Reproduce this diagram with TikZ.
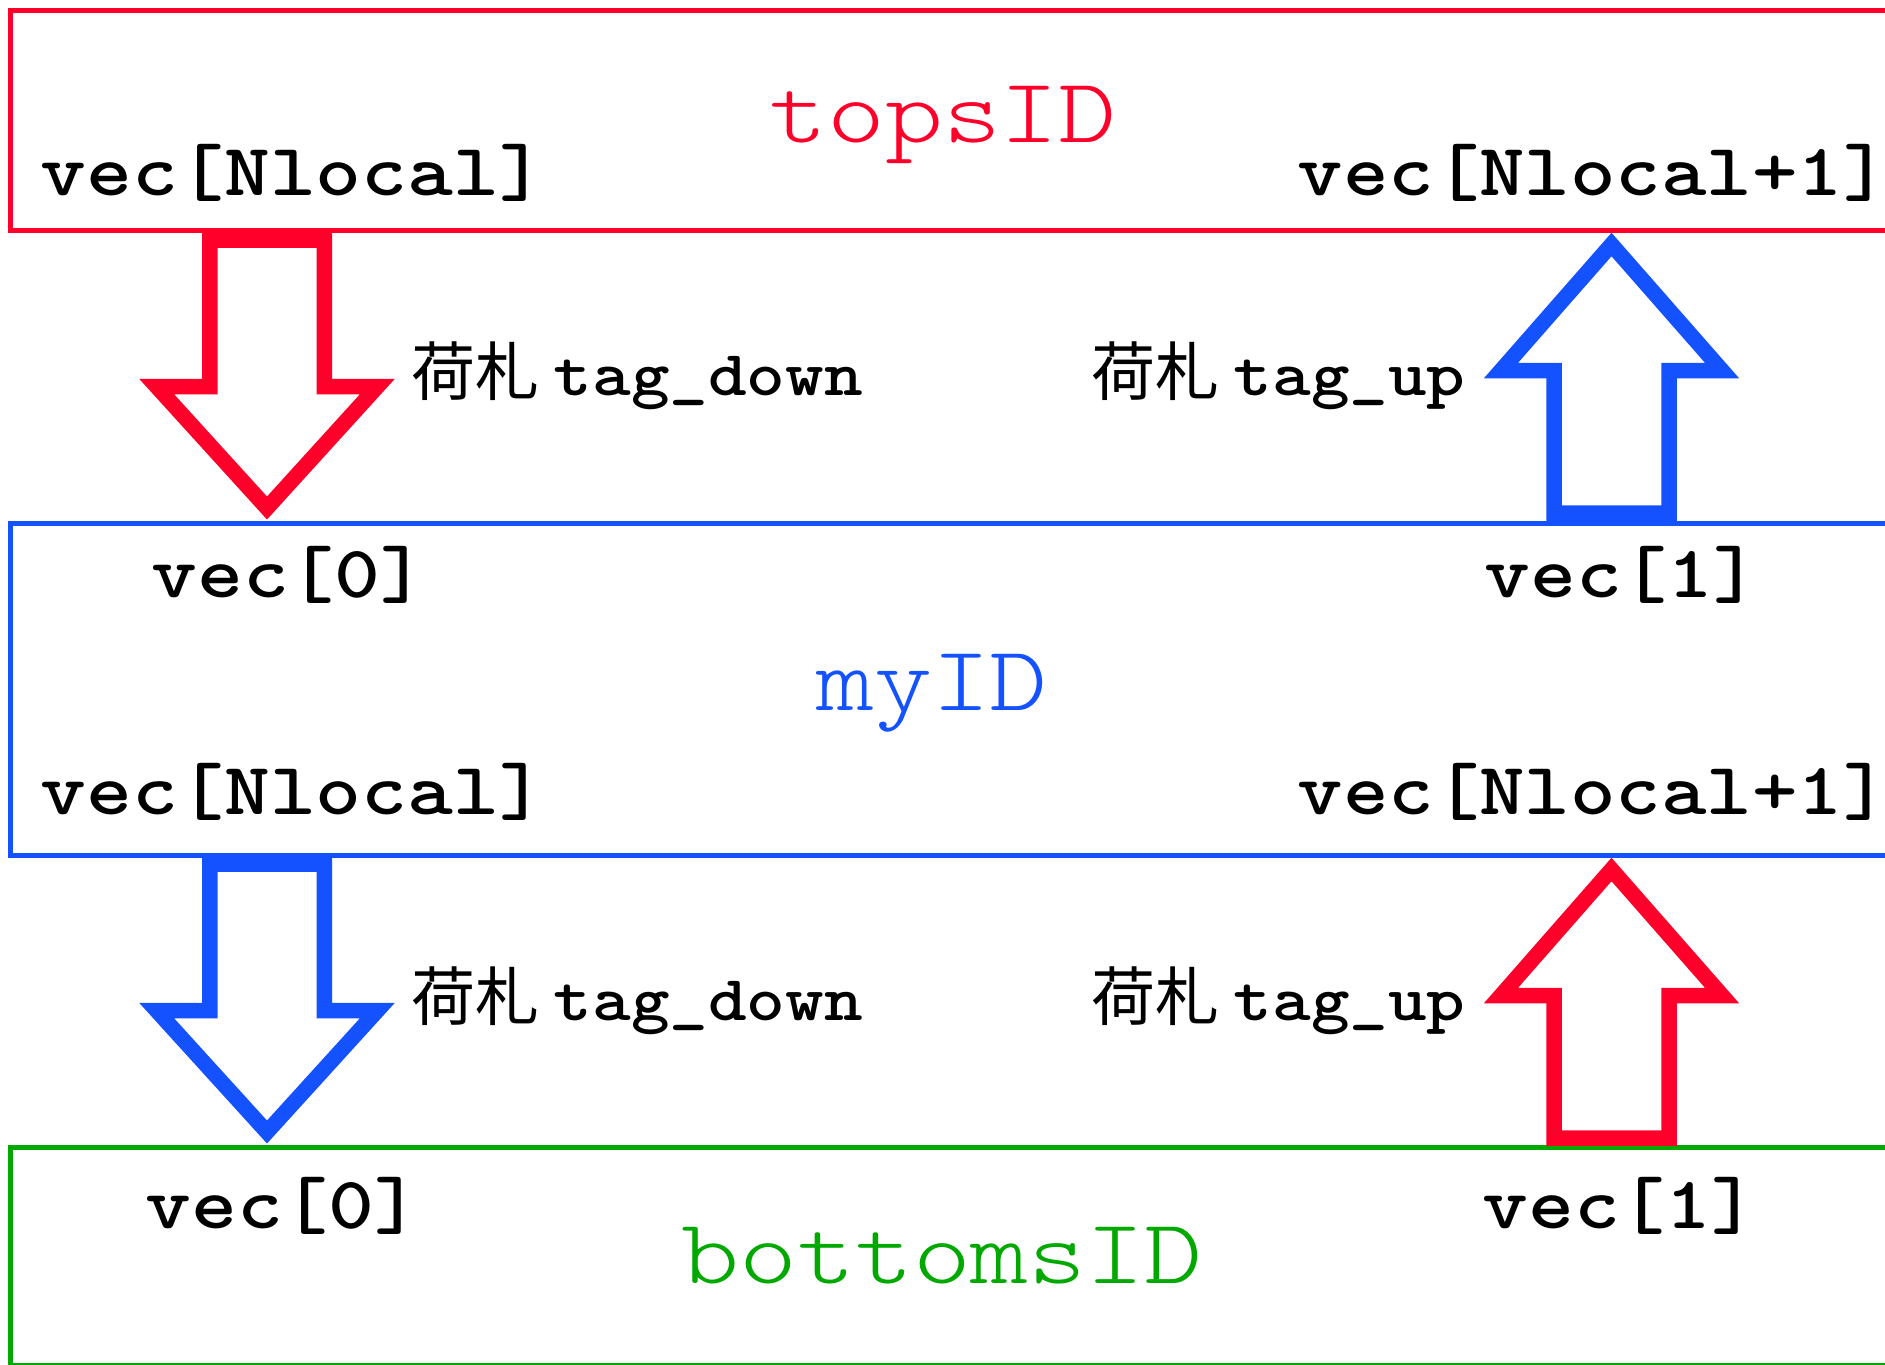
\documentclass[tikz,border=0pt]{standalone}
\usepackage{graphicx}
\usepackage{fontspec}
\newfontfamily\cjk{Noto Sans CJK JP}
\definecolor{idred}{RGB}{255,0,42}
\definecolor{idblue}{RGB}{20,82,255}
\definecolor{idgreen}{RGB}{0,168,0}
% wide typewriter text: Latin Modern Mono stretched to a Courier-like pitch
\newcommand{\wtt}[2][1.18]{\scalebox{#1}[1]{#2}}
\begin{document}
\begin{tikzpicture}[x=0.5pt,y=-0.5pt,
  layerbox/.style={line width=2.5pt},
  fatarrow/.style={line width=7.75pt, line join=miter},
  vecl/.style={font=\fontsize{37}{37}\selectfont\ttfamily\bfseries, inner sep=0pt},
  tagl/.style={font=\fontsize{32}{32}\selectfont\ttfamily\bfseries, inner sep=0pt, anchor=base west},
  idname/.style={font=\fontsize{46}{46}\selectfont\ttfamily\fontseries{l}\selectfont, inner sep=0pt, anchor=base},
  pics/downarrow/.style={code={
    \draw[fatarrow,#1] (-57.25,0) -- (57.25,0) -- (57.25,146.5) -- (110.4,146.5)
      -- (0,268) -- (-110.4,146.5) -- (-57.25,146.5) -- cycle;}},
  pics/uparrow/.style={code={
    \draw[fatarrow,#1] (-57.5,0) -- (-57.5,-142.5) -- (-110.5,-142.5)
      -- (0,-268.5) -- (110.5,-142.5) -- (57.5,-142.5) -- (57.5,0) -- cycle;}},
]
\useasboundingbox (0,0) rectangle (1885,1365);
\clip (0,0) rectangle (1885,1365);

% the three process layers
\draw[layerbox,idred]   (10.5,10.5)  rectangle (1900,230.5);
\draw[layerbox,idblue]  (10.5,523)   rectangle (1900,855);
\draw[layerbox,idgreen] (10.5,1147)  rectangle (1900,1365);

% anchor points of the transfer arrows
\coordinate (dn1) at (267,240);
\coordinate (up1) at (1611.5,513);
\coordinate (dn2) at (267,864);
\coordinate (up2) at (1611.5,1138);

\pic at (dn1) {downarrow=idred};
\pic at (up1) {uparrow=idblue};
\pic at (dn2) {downarrow=idblue};
\pic at (up2) {uparrow=idred};

% upper layer
\node[idname,text=idred] (topsname) at (943,142) {\wtt[1.2]{topsID}};
\node[vecl,anchor=base west] (topsvl) at (40.5,195) {\wtt{vec[Nlocal]}};
\node[vecl,anchor=base east] (topsvr) at (1889,195) {\wtt[1.17]{vec[Nlocal+1]}};

% transfer labels, first gap
\node[tagl] (tagdown1) at (411,395) {{\cjk\mdseries 荷札 }\wtt[1.15]{tag\_down}};
\node[tagl] (tagup1) at (1091,395) {{\cjk\mdseries 荷札 }\wtt[1.15]{tag\_up}};

% middle layer
\node[vecl,anchor=base west] (myv0) at (151,597) {\wtt{vec[0]}};
\node[vecl,anchor=base west] (myv1) at (1484,597) {\wtt{vec[1]}};
\node[idname,text=idblue] (myname) at (932,710) {\wtt[1.2]{myID}};
\node[vecl,anchor=base west] (myvl) at (40.5,814) {\wtt{vec[Nlocal]}};
\node[vecl,anchor=base east] (myvr) at (1889,814) {\wtt[1.17]{vec[Nlocal+1]}};

% transfer labels, second gap
\node[tagl] (tagdown2) at (411,1020) {{\cjk\mdseries 荷札 }\wtt[1.15]{tag\_down}};
\node[tagl] (tagup2) at (1091,1020) {{\cjk\mdseries 荷札 }\wtt[1.15]{tag\_up}};

% lower layer
\node[vecl,anchor=base west] (botv0) at (145,1228) {\wtt{vec[0]}};
\node[vecl,anchor=base west] (botv1) at (1482,1228) {\wtt{vec[1]}};
\node[idname,text=idgreen] (botname) at (942,1283) {\wtt[1.2]{bottomsID}};
\end{tikzpicture}
\end{document}
